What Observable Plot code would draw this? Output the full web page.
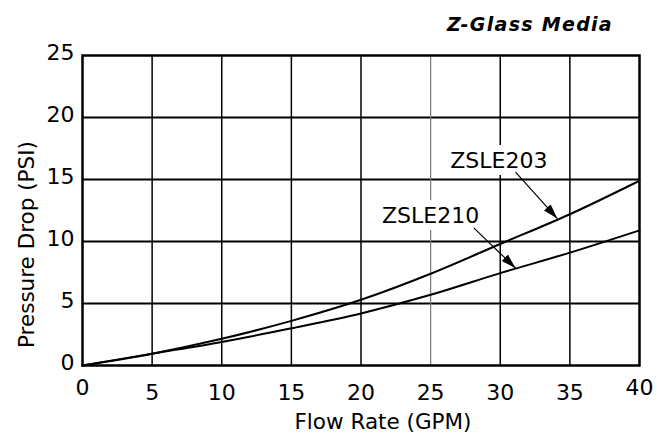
<!DOCTYPE html>
<html>
<head>
<meta charset="utf-8">
<script src="https://cdn.jsdelivr.net/npm/d3@7"></script>
<script src="https://cdn.jsdelivr.net/npm/@observablehq/plot@0.6"></script>
<style>
  html, body { margin: 0; padding: 0; background: #fff; }
  #title { height: 40px; width: 666px; position: relative; font-family: "DejaVu Sans", sans-serif; }
  #title span { position: absolute; right: 53px; top: 13px; font-size: 19px; font-weight: bold; font-style: italic; letter-spacing: 1.3px; color: #000; }
</style>
</head>
<body>
<div id="title"><span>Z-Glass Media</span></div>
<div id="chart"></div>
<script>
// Flow rate (GPM)
const flow = [0, 5, 10, 15, 20, 25, 30, 35, 40];
// Pressure drop (PSI) per model
const zsle203 = [0, 0.95, 2.15, 3.6, 5.3, 7.4, 9.8, 12.2, 14.9];
const zsle210 = [0, 0.95, 1.9, 3.0, 4.2, 5.7, 7.45, 9.1, 10.9];
const seriesNames = ["ZSLE203", "ZSLE210"];
// Axis ticks
const xTicksMid = [5, 10, 15, 20, 25, 30, 35];
const xTicksEnd = [0, 40];
const yTicks = [0, 5, 10, 15, 20, 25];
const gridX = [5, 10, 15, 20, 30, 35];
const gridXLight = [25];
const gridY = [5, 10, 15, 20];
// Annotation labels and arrows (data units)
const labels = [
  {name: "ZSLE203", x: 29.9, y: 16.5},
  {name: "ZSLE210", x: 25.0, y: 12.1}
];
const arrows = [
  {x1: 31.1, y1: 15.6, x2: 34.1, y2: 11.85},
  {x1: 28.1, y1: 11.1, x2: 31.1, y2: 7.85}
];

const rows = [];
flow.forEach((f, i) => {
  rows.push({series: seriesNames[0], flow: f, psi: zsle203[i]});
  rows.push({series: seriesNames[1], flow: f, psi: zsle210[i]});
});

function filledArrow(color, context) {
  const ns = "http://www.w3.org/2000/svg";
  const doc = context.document;
  const m = doc.createElementNS(ns, "marker");
  m.setAttribute("viewBox", "-15 -5 15 10");
  m.setAttribute("markerUnits", "userSpaceOnUse");
  m.setAttribute("markerWidth", 15);
  m.setAttribute("markerHeight", 10);
  m.setAttribute("refX", 0);
  m.setAttribute("refY", 0);
  m.setAttribute("orient", "auto");
  const p = doc.createElementNS(ns, "path");
  p.setAttribute("d", "M-15,-4.5L0,0L-15,4.5Z");
  p.setAttribute("fill", "#000");
  p.setAttribute("stroke", "none");
  m.appendChild(p);
  return m;
}

const chart = Plot.plot({
  width: 666,
  height: 395,
  marginLeft: 82,
  marginRight: 27,
  marginTop: 15,
  marginBottom: 70,
  style: {fontFamily: "DejaVu Sans, sans-serif", color: "#000", background: "#fff"},
  x: {domain: [0, 40]},
  y: {domain: [0, 25]},
  marks: [
    Plot.ruleY(gridY, {stroke: "#000", strokeWidth: 2}),
    Plot.ruleX(gridX, {stroke: "#000", strokeWidth: 1.5}),
    Plot.ruleX(gridXLight, {stroke: "#777", strokeWidth: 1.2}),
    Plot.text(labels, {x: "x", y: "y", text: "name", fontSize: 22, fill: "#000",
      stroke: "#fff", strokeWidth: 14, strokeLinejoin: "round"}),
    Plot.line(rows, {x: "flow", y: "psi", z: "series", curve: "monotone-x", stroke: "#000", strokeWidth: 2}),
    Plot.link(arrows, {x1: "x1", y1: "y1", x2: "x2", y2: "y2", stroke: "#000", strokeWidth: 1.2, markerEnd: filledArrow}),
    Plot.frame({stroke: "#000", strokeWidth: 2.5}),
    Plot.axisY(yTicks, {tickSize: 0, tickPadding: 8, fontSize: 22, dy: -3, label: null}),
    Plot.axisX(xTicksMid, {tickSize: 0, tickPadding: 18.5, fontSize: 22, label: null}),
    Plot.axisX(xTicksEnd, {tickSize: 0, tickPadding: 13.5, fontSize: 22, label: null}),
    Plot.text(["Flow Rate (GPM)"], {frameAnchor: "bottom", textAnchor: "middle", lineAnchor: "middle", dx: 22, dy: 57, fontSize: 21.5, fill: "#000"}),
    Plot.text(["Pressure Drop (PSI)"], {frameAnchor: "left", textAnchor: "middle", lineAnchor: "middle", dx: -55, dy: 34, rotate: -90, fontSize: 21.5, fill: "#000"})
  ]
});
document.getElementById("chart").appendChild(chart);
</script>
</body>
</html>
